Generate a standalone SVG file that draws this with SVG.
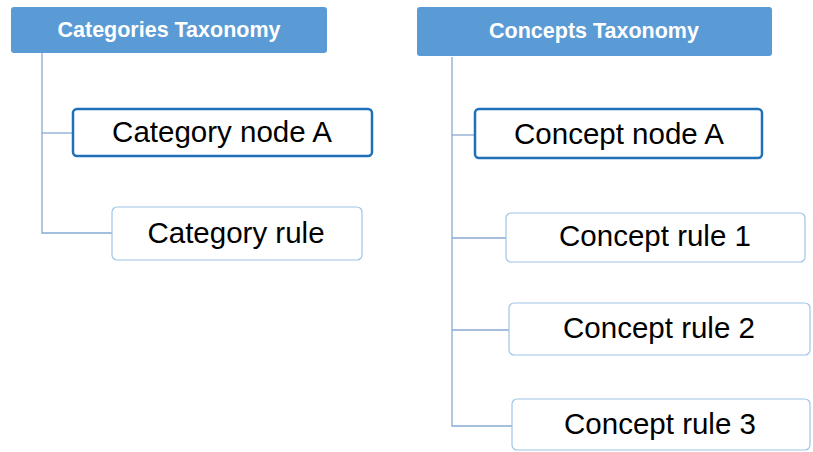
<svg xmlns="http://www.w3.org/2000/svg" width="813" height="452" viewBox="0 0 813 452">
<style>
.hdr{fill:#5b9bd5;}
.hdrt{fill:#ffffff;font-family:"Liberation Sans",Arial,sans-serif;font-weight:bold;font-size:21.5px;text-anchor:middle;}
.sel{fill:#ffffff;stroke:#1f70b8;stroke-width:2.5;}
.rule{fill:#ffffff;stroke:#9dc3e6;stroke-width:1.2;}
.t{fill:#000000;font-family:"Liberation Sans",Arial,sans-serif;font-size:29.5px;text-anchor:middle;}
.c{fill:none;stroke:#87a9d3;stroke-width:1.3;}
</style>
<rect width="813" height="452" fill="#ffffff"/>
<g id="connectors">
<path class="c" d="M42,53 V233 H112"/>
<path class="c" d="M42,133 H73"/>
<path class="c" d="M452,57 V426 H512"/>
<path class="c" d="M452,135 H475"/>
<path class="c" d="M452,238 H506"/>
<path class="c" d="M452,330 H509"/>
</g>
<g id="categories-taxonomy">
<rect class="hdr" x="11" y="7" width="316" height="46" rx="3"/>
<text class="hdrt" x="169" y="37">Categories Taxonomy</text>
</g>
<g id="category-node-a">
<rect class="sel" x="73" y="109" width="299" height="47" rx="4"/>
<text class="t" x="222" y="142">Category node A</text>
</g>
<g id="category-rule">
<rect class="rule" x="112" y="207" width="250" height="53" rx="5"/>
<text class="t" x="236" y="243">Category rule</text>
</g>
<g id="concepts-taxonomy">
<rect class="hdr" x="417" y="7" width="355" height="49" rx="3"/>
<text class="hdrt" x="594" y="38">Concepts Taxonomy</text>
</g>
<g id="concept-node-a">
<rect class="sel" x="475" y="109" width="287" height="49" rx="4"/>
<text class="t" x="619" y="144">Concept node A</text>
</g>
<g id="concept-rule-1">
<rect class="rule" x="506" y="213" width="299" height="49" rx="5"/>
<text class="t" x="655" y="246">Concept rule 1</text>
</g>
<g id="concept-rule-2">
<rect class="rule" x="509" y="303" width="301" height="52" rx="5"/>
<text class="t" x="659" y="338">Concept rule 2</text>
</g>
<g id="concept-rule-3">
<rect class="rule" x="512" y="399" width="298" height="51" rx="5"/>
<text class="t" x="660" y="434">Concept rule 3</text>
</g>
</svg>
